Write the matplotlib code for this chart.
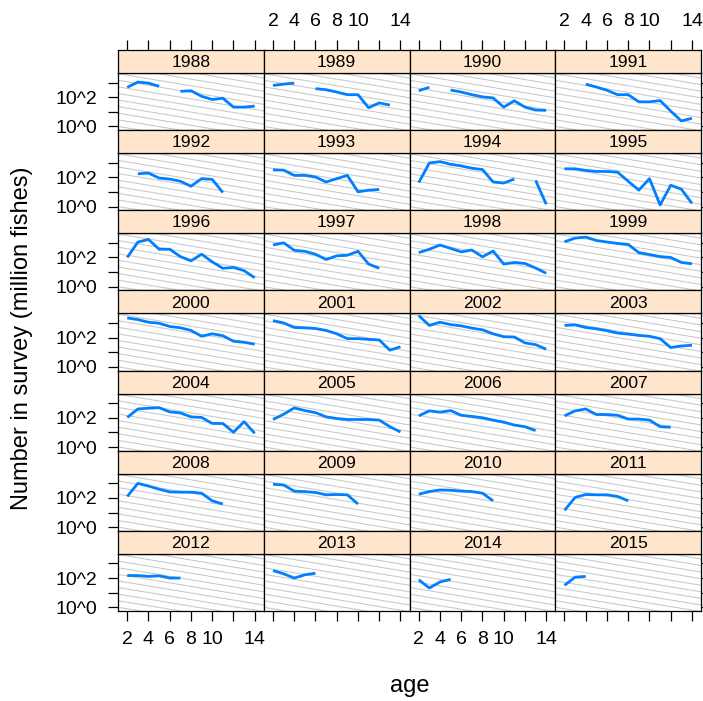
#!/usr/bin/env python3
"""
Survey numbers at age by year, lattice-style panel grid (log10 scale)
"""

import numpy as np
import matplotlib
matplotlib.use("Agg")
import matplotlib.pyplot as plt

nan = np.nan

# ages on the x axis
ages = np.arange(2, 15)

years = list(range(1988, 2016))

# log10 of number in survey (million fishes), ages 2..14
log_n = {
    1988: [2.67, 3.03, 2.96, 2.74, nan, 2.40, 2.44, 2.06, 1.84, 1.93, 1.32, 1.32, 1.39],
    1989: [2.80, 2.89, 2.96, nan, 2.58, 2.51, 2.35, 2.17, 2.17, 1.28, 1.61, 1.46, nan],
    1990: [2.44, 2.67, nan, 2.49, 2.35, 2.17, 2.02, 1.95, 1.32, 1.75, 1.32, 1.12, 1.10],
    1991: [nan, nan, 2.89, 2.69, 2.47, 2.17, 2.17, 1.68, 1.68, 1.77, 1.05, 0.38, 0.56],
    1992: [nan, 2.24, 2.29, 1.95, 1.88, 1.73, 1.39, 1.91, 1.86, 0.96, nan, nan, nan],
    1993: [2.51, 2.49, 2.13, 2.13, 2.02, 1.68, 1.91, 2.13, 1.01, 1.12, 1.17, nan, nan],
    1994: [1.64, 2.98, 3.07, 2.89, 2.78, 2.62, 2.53, 1.68, 1.61, 1.88, nan, 1.79, 0.16],
    1995: [2.58, 2.58, 2.47, 2.40, 2.40, 2.35, 1.73, 1.12, 1.91, 0.11, 1.46, 1.19, 0.22],
    1996: [2.00, 3.05, 3.23, 2.56, 2.56, 2.06, 1.77, 2.22, 1.70, 1.26, 1.32, 1.10, 0.61],
    1997: [2.85, 3.00, 2.49, 2.42, 2.22, 1.86, 2.11, 2.15, 2.42, 1.55, 1.26, nan, nan],
    1998: [2.33, 2.56, 2.85, 2.62, 2.38, 2.51, 2.04, 2.44, 1.55, 1.66, 1.59, 1.28, 0.92],
    1999: [3.07, 3.32, 3.39, 3.16, 3.05, 2.96, 2.89, 2.33, 2.20, 2.06, 2.00, 1.66, 1.57],
    2000: [3.34, 3.23, 3.05, 2.98, 2.76, 2.67, 2.49, 2.09, 2.26, 2.13, 1.75, 1.68, 1.55],
    2001: [3.16, 3.00, 2.69, 2.67, 2.62, 2.49, 2.26, 1.93, 1.93, 1.88, 1.84, 1.14, 1.37],
    2002: [3.50, 2.83, 3.05, 2.89, 2.80, 2.65, 2.53, 2.26, 2.06, 2.04, 1.64, 1.52, 1.21],
    2003: [2.83, 2.87, 2.69, 2.60, 2.47, 2.31, 2.24, 2.15, 2.09, 1.93, 1.32, 1.43, 1.48],
    2004: [2.02, 2.60, 2.65, 2.69, 2.40, 2.33, 2.06, 2.02, 1.61, 1.61, 1.01, 1.73, 0.94],
    2005: [1.88, 2.24, 2.67, 2.49, 2.35, 2.06, 1.95, 1.88, 1.88, 1.88, 1.84, 1.39, 1.03],
    2006: [2.13, 2.47, 2.38, 2.49, 2.17, 2.09, 2.00, 1.84, 1.70, 1.50, 1.39, 1.12, nan],
    2007: [2.13, 2.47, 2.60, 2.22, 2.22, 2.17, 1.91, 1.91, 1.84, 1.39, 1.35, nan, nan],
    2008: [2.10, 2.99, 2.81, 2.59, 2.41, 2.39, 2.39, 2.32, 1.80, 1.58, nan, nan, nan],
    2009: [2.93, 2.88, 2.46, 2.43, 2.37, 2.21, 2.23, 2.21, 1.58, nan, nan, nan, nan],
    2010: [2.25, 2.43, 2.54, 2.52, 2.46, 2.43, 2.32, 1.80, nan, nan, nan, nan, nan],
    2011: [1.15, 2.03, 2.23, 2.21, 2.21, 2.10, 1.80, nan, nan, nan, nan, nan, nan],
    2012: [2.17, 2.17, 2.11, 2.15, 2.00, 2.00, nan, nan, nan, nan, nan, nan, nan],
    2013: [2.51, 2.29, 2.00, 2.22, 2.33, nan, nan, nan, nan, nan, nan, nan, nan],
    2014: [1.88, 1.32, 1.73, 1.91, nan, nan, nan, nan, nan, nan, nan, nan, nan],
    2015: [1.50, 2.06, 2.11, nan, nan, nan, nan, nan, nan, nan, nan, nan, nan],
}

x_ticks = [2, 4, 6, 8, 10, 12, 14]
x_ticklabels = ['2', '4', '6', '8', '10', '', '14']
y_ticks = [0, 1, 2, 3]
y_ticklabels = ['10^0', '', '10^2', '']

plt.rcParams['font.family'] = ['Liberation Sans', 'DejaVu Sans']

W, H = 703, 701
fig = plt.figure(figsize=(W / 100, H / 100), dpi=100)

# panel grid in pixels
left, right, top, bottom = 118, 701, 50, 611
ncol, nrow = 4, 7
strip_h = 23
col_w = (right - left) / ncol
row_h = (bottom - top) / nrow
plot_h = row_h - strip_h

xlim = (1.13, 14.85)
ylim = (-0.25, 3.65)

line_col = '#0080ff'
strip_col = '#ffe5cc'
tick_len = 7.2   # ~10 px
tick_fs = 14

# background reference lines (constant mortality slopes)
ref_slope = -0.12
ref_icpt = np.arange(-1.0, 6.0, 0.45)
xx = np.array(xlim)

for i, yr in enumerate(years):
    r, c = divmod(i, ncol)
    x0 = left + c * col_w
    y_strip = top + r * row_h
    y_plot_top = y_strip + strip_h
    y_plot_bot = y_strip + row_h

    ax = fig.add_axes([x0 / W, 1 - y_plot_bot / H, col_w / W, plot_h / H])
    for a in ref_icpt:
        ax.plot(xx, a + ref_slope * (xx - 2), color='#c8c8c8', lw=0.75, zorder=1)
    ax.plot(ages, log_n[yr], color=line_col, lw=2.0, zorder=3,
            solid_capstyle='butt', solid_joinstyle='round')
    ax.set_xlim(xlim)
    ax.set_ylim(ylim)
    for s in ax.spines.values():
        s.set_linewidth(0.9)

    # x ticks: bottom row only
    ax.set_xticks(x_ticks)
    if r == nrow - 1:
        ax.tick_params(axis='x', bottom=True, direction='out', length=tick_len,
                       width=0.9, pad=7, labelsize=tick_fs,
                       labelbottom=(c % 2 == 0))
        ax.set_xticklabels(x_ticklabels)
    else:
        ax.tick_params(axis='x', bottom=False, labelbottom=False)

    # y ticks: left column labelled, right column ticks only
    ax.set_yticks(y_ticks)
    ax.set_yticklabels(y_ticklabels)
    ax.tick_params(axis='y', left=(c == 0), labelleft=(c == 0),
                   right=(c == ncol - 1), labelright=False,
                   direction='out', length=tick_len, width=0.9,
                   pad=8, labelsize=tick_fs)

    # strip with the year
    sax = fig.add_axes([x0 / W, 1 - y_plot_top / H, col_w / W, strip_h / H])
    sax.set_facecolor(strip_col)
    sax.set_xlim(xlim)
    sax.set_yticks([])
    for s in sax.spines.values():
        s.set_linewidth(0.9)
    sax.text(0.5, 0.45, str(yr), transform=sax.transAxes, ha='center',
             va='center', fontsize=12.6)
    sax.set_xticks(x_ticks)
    if r == 0:
        sax.tick_params(axis='x', bottom=False, labelbottom=False, top=True,
                        labeltop=(c % 2 == 1), direction='out',
                        length=tick_len, width=0.9, pad=7, labelsize=tick_fs)
        sax.set_xticklabels(x_ticklabels)
    else:
        sax.tick_params(axis='x', bottom=False, labelbottom=False)

fig.text((left + right) / 2 / W, 1 - 686 / H, 'age', ha='center', va='center',
         fontsize=17)
fig.text(22 / W, 1 - 338 / H, 'Number in survey (million fishes)',
         rotation=90, ha='center', va='center', fontsize=17)

fig.savefig('out.png', dpi=100)
